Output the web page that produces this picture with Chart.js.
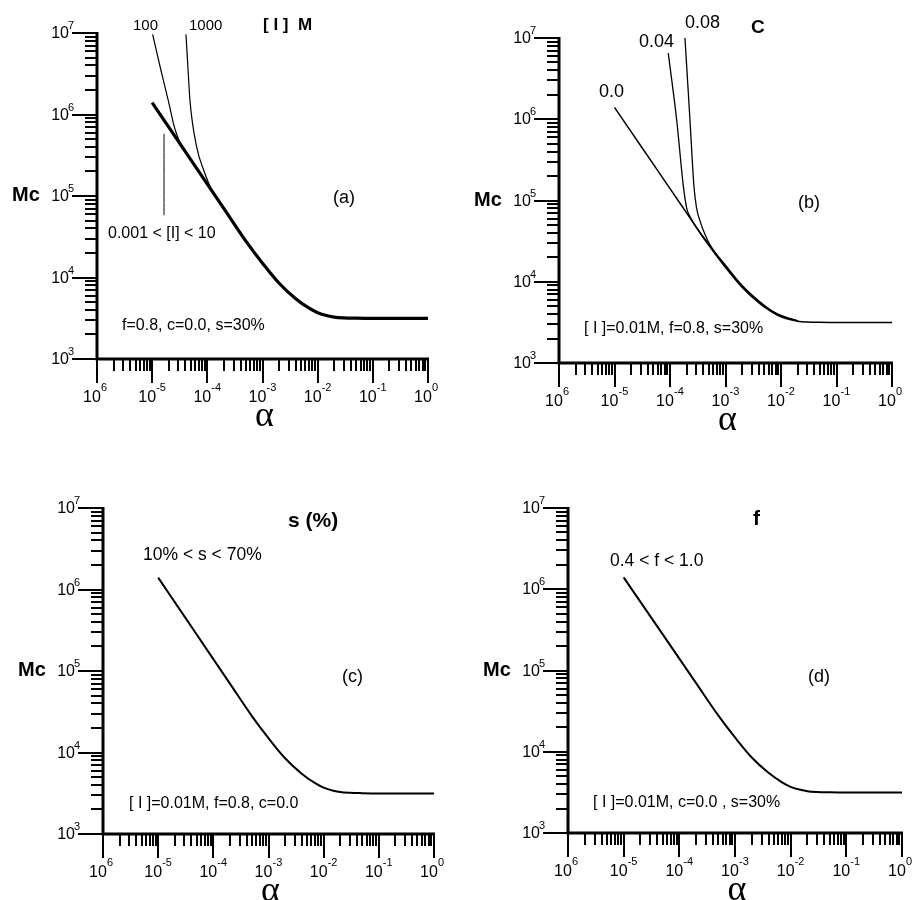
<!DOCTYPE html>
<html>
<head>
<meta charset="utf-8">
<script src="https://cdn.jsdelivr.net/npm/chart.js@4.4.1/dist/chart.umd.min.js"></script>
<style>
  body { margin: 0; background: #fff; }
  #wrap { position: relative; width: 912px; height: 900px; overflow: hidden; }
  .panel { position: absolute; width: 456px; height: 450px; }
</style>
</head>
<body>
<div id="wrap">
  <div class="panel" style="left:0;top:0"><canvas id="pa" width="456" height="450"></canvas></div>
  <div class="panel" style="left:456px;top:0"><canvas id="pb" width="456" height="450"></canvas></div>
  <div class="panel" style="left:0;top:450px"><canvas id="pc" width="456" height="450"></canvas></div>
  <div class="panel" style="left:456px;top:450px"><canvas id="pd" width="456" height="450"></canvas></div>
</div>
<script>
// Mc vs alpha
const alphaMain = [1e-5, 2e-5, 5e-5, 1e-4, 2e-4, 5e-4, 1e-3, 2e-3, 4e-3, 7e-3, 1e-2, 1.5e-2, 2e-2, 3e-2, 5e-2, 0.1, 0.3, 1];
const mcMain    = [1.4e6, 7.0e5, 2.8e5, 1.4e5, 7.0e4, 2.8e4, 1.5e4, 8.5e3, 5.5e3, 4.2e3, 3.7e3, 3.4e3, 3.27e3, 3.2e3, 3.17e3, 3.15e3, 3.15e3, 3.15e3];

// panel (a): [I] = 100 and 1000 M
const alphaI100  = [1.02e-5, 1.4e-5, 2.0e-5, 2.5e-5, 3.2e-5];
const mcI100     = [9.6e6, 3.8e6, 1.4e6, 7.2e5, 4.4e5];
const alphaI1000 = [4.1e-5, 4.5e-5, 4.85e-5, 6.4e-5, 9.0e-5, 1.2e-4];
const mcI1000    = [9.6e6, 3.3e6, 1.47e6, 4.0e5, 1.9e5, 1.17e5];
const pointerAlpha = [1.64e-5, 1.64e-5];
const pointerMc    = [5.8e5, 5.8e4];

// panel (b): c = 0.04 and 0.08
const alphaC004 = [9.3e-5, 1.32e-4, 1.74e-4, 2.0e-4, 2.3e-4, 5e-4, 1e-3, 2e-3, 4e-3, 7e-3, 1e-2, 2e-2];
const mcC004    = [6.5e6, 9.8e5, 1.5e5, 8.0e4, 6.3e4, 2.9e4, 1.55e4, 8.8e3, 5.7e3, 4.3e3, 3.8e3, 3.3e3];
const alphaC008 = [1.86e-4, 2.29e-4, 2.7e-4, 3.0e-4, 3.6e-4, 4.3e-4, 5.5e-4, 1e-3, 2e-3, 4e-3, 7e-3, 1e-2, 2e-2];
const mcC008    = [1.0e7, 9.8e5, 1.5e5, 8.2e4, 5.2e4, 3.8e4, 2.7e4, 1.6e4, 9.0e3, 5.8e3, 4.35e3, 3.85e3, 3.3e3];

// axis ticks (decade exponents) and the exponent text printed under each x tick
const xTickExps = [-6, -5, -4, -3, -2, -1, 0];
const xTickSups = ['6', '-5', '-4', '-3', '-2', '-1', '0'];
const yTickExps = [3, 4, 5, 6, 7];

const SANS = "'Liberation Sans', Arial, sans-serif";
const SERIF = "'Liberation Serif', 'Times New Roman', serif";

function txt(ctx, text, x, y, size, opt) {
  opt = opt || {};
  ctx.font = (opt.bold ? 'bold ' : '') + size + 'px ' + (opt.serif ? SERIF : SANS);
  ctx.textAlign = opt.align || 'left';
  ctx.textBaseline = 'alphabetic';
  ctx.fillText(text, x, y);
}

// draws the left/bottom log axes with outward ticks, labels and panel notes
const logAxes = {
  id: 'logAxes',
  afterDatasetsDraw(chart, args, opts) {
    const { ctx, chartArea: a, scales: { x, y } } = chart;
    ctx.save();
    ctx.strokeStyle = '#000';
    ctx.fillStyle = '#000';

    ctx.lineWidth = 3;
    ctx.beginPath();
    ctx.moveTo(a.left, a.top - 1);
    ctx.lineTo(a.left, a.bottom);
    ctx.lineTo(a.right + 1, a.bottom);
    ctx.stroke();

    ctx.lineWidth = 2;
    ctx.beginPath();
    for (let e = yTickExps[0]; e < yTickExps[yTickExps.length - 1]; e++) {
      for (let m = 2; m <= 9; m++) {
        const py = Math.round(y.getPixelForValue(m * Math.pow(10, e)));
        ctx.moveTo(a.left - 12, py); ctx.lineTo(a.left, py);
      }
    }
    yTickExps.forEach(e => {
      const py = Math.round(y.getPixelForValue(Math.pow(10, e)));
      ctx.moveTo(a.left - 25, py); ctx.lineTo(a.left, py);
    });
    for (let e = xTickExps[0]; e < xTickExps[xTickExps.length - 1]; e++) {
      for (let m = 2; m <= 9; m++) {
        const px = Math.round(x.getPixelForValue(m * Math.pow(10, e)));
        ctx.moveTo(px, a.bottom); ctx.lineTo(px, a.bottom + 12);
      }
    }
    xTickExps.forEach(e => {
      const px = Math.round(x.getPixelForValue(Math.pow(10, e)));
      ctx.moveTo(px, a.bottom); ctx.lineTo(px, a.bottom + 24);
    });
    ctx.stroke();

    yTickExps.forEach(e => {
      const py = y.getPixelForValue(Math.pow(10, e));
      txt(ctx, '10', a.left - 28, py + 5, 16, { align: 'right' });
      txt(ctx, String(e), a.left - 29, py - 4, 11);
    });
    xTickExps.forEach((e, i) => {
      const px = x.getPixelForValue(Math.pow(10, e));
      txt(ctx, '10', px - 5, a.bottom + 43, 16, { align: 'center' });
      txt(ctx, xTickSups[i], px + 4, a.bottom + 32, 11);
    });

    // axis titles
    txt(ctx, 'Mc', a.left - 85, y.getPixelForValue(1e5) + 5, 20, { bold: true });
    txt(ctx, 'α', (a.left + a.right) / 2 + 2, a.bottom + 67, 36, { serif: true, align: 'center' });

    (opts.notes || []).forEach(n => txt(ctx, n.text, n.x, n.y, n.size, { bold: n.bold }));
    ctx.restore();
  }
};

function pts(xs, ys) {
  return xs.map((v, i) => ({ x: v, y: ys[i] }));
}

function curve(xs, ys, w) {
  return {
    data: pts(xs, ys),
    borderColor: '#000',
    borderWidth: w,
    pointRadius: 0,
    fill: false,
    cubicInterpolationMode: 'monotone',
    clip: 6
  };
}

function makePanel(id, pad, datasets, notes) {
  new Chart(document.getElementById(id), {
    type: 'line',
    data: { datasets: datasets },
    options: {
      responsive: false,
      animation: false,
      events: [],
      layout: { padding: pad },
      scales: {
        x: { type: 'logarithmic', min: 1e-6, max: 1, display: false },
        y: { type: 'logarithmic', min: 1e3, max: 1e7, display: false }
      },
      plugins: {
        legend: { display: false },
        tooltip: { enabled: false },
        logAxes: { notes: notes }
      }
    },
    plugins: [logAxes]
  });
}

makePanel('pa', { left: 97, top: 33, right: 28, bottom: 91 }, [
  curve(alphaMain, mcMain, 3.2),
  curve(alphaI100, mcI100, 1.2),
  curve(alphaI1000, mcI1000, 1.2),
  curve(pointerAlpha, pointerMc, 1)
], [
  { text: '100', x: 133, y: 30, size: 15 },
  { text: '1000', x: 189, y: 30, size: 15 },
  { text: '[ I ]  M', x: 263, y: 30, size: 17, bold: true },
  { text: '(a)', x: 333, y: 203, size: 18 },
  { text: '0.001 < [I] < 10', x: 108, y: 238, size: 16 },
  { text: 'f=0.8, c=0.0, s=30%', x: 122, y: 330, size: 16 }
]);

makePanel('pb', { left: 103, top: 38, right: 20, bottom: 87 }, [
  curve(alphaMain, mcMain, 1.5),
  curve(alphaC004, mcC004, 1.3),
  curve(alphaC008, mcC008, 1.3)
], [
  { text: '0.0', x: 143, y: 97, size: 18 },
  { text: '0.04', x: 183, y: 47, size: 18 },
  { text: '0.08', x: 229, y: 28, size: 18 },
  { text: 'C', x: 295, y: 33, size: 19, bold: true },
  { text: '(b)', x: 342, y: 208, size: 18 },
  { text: '[ I ]=0.01M, f=0.8, s=30%', x: 128, y: 333, size: 16 }
]);

makePanel('pc', { left: 103, top: 58, right: 22, bottom: 66 }, [
  curve(alphaMain, mcMain, 2)
], [
  { text: 's (%)', x: 288, y: 77, size: 21, bold: true },
  { text: '10% < s < 70%', x: 143, y: 110, size: 17.5 },
  { text: '(c)', x: 342, y: 232, size: 18 },
  { text: '[ I ]=0.01M, f=0.8, c=0.0', x: 129, y: 358, size: 16 }
]);

makePanel('pd', { left: 112, top: 58, right: 10, bottom: 67 }, [
  curve(alphaMain, mcMain, 2)
], [
  { text: 'f', x: 297, y: 75, size: 21, bold: true },
  { text: '0.4 < f < 1.0', x: 154, y: 116, size: 17.5 },
  { text: '(d)', x: 352, y: 232, size: 18 },
  { text: '[ I ]=0.01M, c=0.0 , s=30%', x: 137, y: 357, size: 16 }
]);
</script>
</body>
</html>
